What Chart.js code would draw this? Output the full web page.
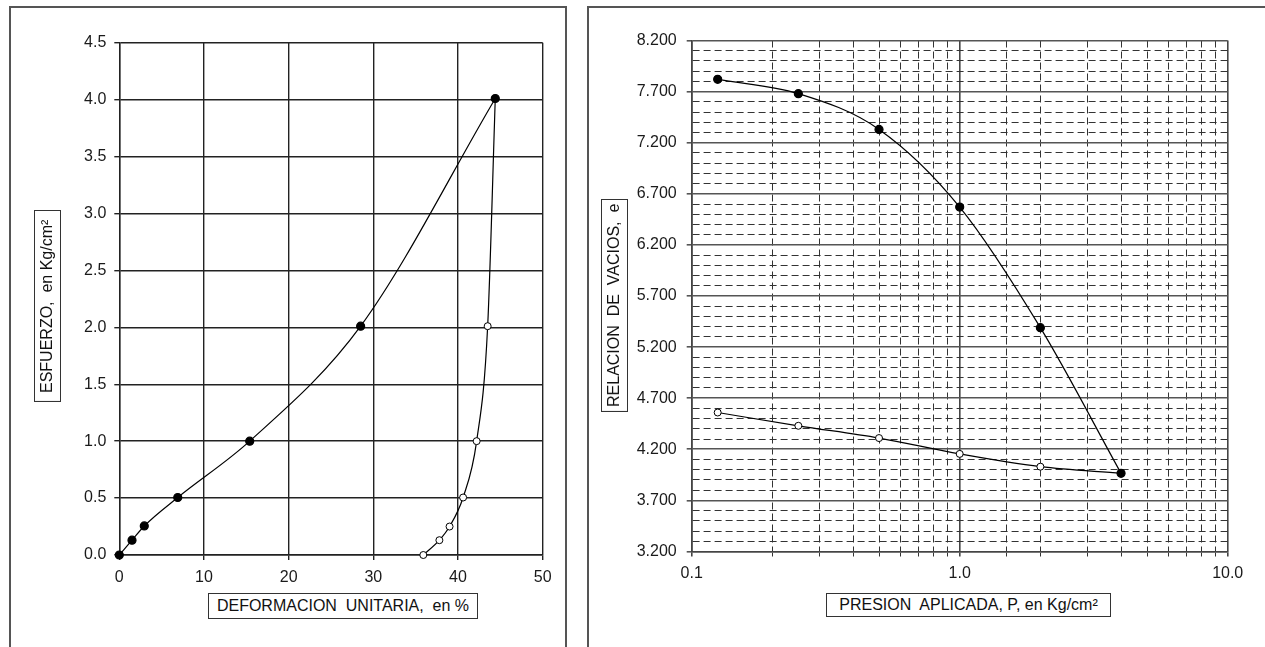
<!DOCTYPE html>
<html>
<head>
<meta charset="utf-8">
<script src="https://cdn.jsdelivr.net/npm/chart.js@4.4.1/dist/chart.umd.min.js"></script>
<style>
  body { margin: 0; background: #fff; width: 1265px; height: 647px; overflow: hidden; position: relative; font-family: "Liberation Sans", Arial, sans-serif; }
  .frame { position: absolute; border: 2px solid #555; box-sizing: border-box; }
  canvas { position: absolute; }
  .title { position: absolute; box-sizing: border-box; border: 1.5px solid #333; background: #fff; color: #111; font-size: 16px; display: flex; align-items: center; justify-content: center; white-space: pre; }
  .vert { writing-mode: vertical-rl; transform: rotate(180deg); }
</style>
</head>
<body>
<div class="frame" style="left:9px; top:6px; width:558px; height:680px;"></div>
<div class="frame" style="left:587px; top:6px; width:700px; height:680px;"></div>

<canvas id="stress-chart" width="556" height="640" style="left:10px; top:7px;"></canvas>
<canvas id="void-chart" width="676" height="640" style="left:589px; top:7px;"></canvas>

<div class="title vert" style="left:34px; top:210px; width:27px; height:192px;">ESFUERZO,  en Kg/cm²</div>
<div class="title" style="left:208px; top:593px; width:270px; height:26px;">DEFORMACION  UNITARIA,  en %</div>
<div class="title vert" style="left:601px; top:199px; width:27px; height:213px;">RELACION  DE  VACIOS,  e</div>
<div class="title" style="left:826px; top:593px; width:285px; height:24px;">PRESION  APLICADA, P, en Kg/cm²</div>

<script>
// left chart: esfuerzo vs deformacion
const strainLoad = [0, 1.5, 2.95, 6.9, 15.4, 28.5, 44.4];
const stressLoad = [0, 0.13, 0.255, 0.505, 1.0, 2.01, 4.01];
const strainUnload = [35.9, 37.8, 39.0, 40.6, 42.2, 43.5, 44.4];
const stressUnload = [0, 0.13, 0.25, 0.505, 1.0, 2.01, 4.01];

// right chart: relacion de vacios vs presion
const pressure = [0.125, 0.25, 0.5, 1, 2, 4];
const voidLoad = [7.82, 7.68, 7.33, 6.57, 5.39, 3.965];
const voidUnload = [4.56, 4.43, 4.31, 4.155, 4.03, 3.965];

const tickFont = { family: '"Liberation Sans", Arial, sans-serif', size: 16 };
const tickColor = '#1a1a1a';

function toPoints(xs, ys) {
    return xs.map((x, i) => ({ x: x, y: ys[i] }));
}

const loadPoints = toPoints(strainLoad, stressLoad);
const unloadPoints = toPoints(strainUnload, stressUnload);

new Chart(document.getElementById('stress-chart'), {
    type: 'line',
    data: {
        datasets: [{
            data: loadPoints,
            clip: false,
            borderColor: '#000',
            borderWidth: 1.2,
            cubicInterpolationMode: 'monotone',
            pointRadius: 4,
            pointBackgroundColor: '#000',
            pointBorderColor: '#000'
        }, {
            data: unloadPoints,
            clip: false,
            borderColor: '#000',
            borderWidth: 1.2,
            cubicInterpolationMode: 'monotone',
            pointRadius: ctx => ctx.dataIndex === unloadPoints.length - 1 ? 0 : 3.5,
            pointBackgroundColor: '#fff',
            pointBorderColor: '#000',
            pointBorderWidth: 1
        }]
    },
    options: {
        responsive: false,
        animation: false,
        events: [],
        layout: { padding: { top: 35.7, right: 23.3, left: 0, bottom: 0 } },
        plugins: { legend: { display: false }, tooltip: { enabled: false } },
        scales: {
            x: {
                type: 'linear',
                min: 0,
                max: 50,
                ticks: { stepSize: 10, font: tickFont, color: tickColor, padding: 8 },
                grid: { color: '#222', lineWidth: 1.4, tickLength: 5 },
                border: { color: '#222', width: 1.4 },
                afterFit: scale => { scale.height = 92; }
            },
            y: {
                min: 0,
                max: 4.5,
                ticks: { stepSize: 0.5, font: tickFont, color: tickColor, padding: 8, callback: v => Number(v).toFixed(1) },
                grid: { color: '#222', lineWidth: 1.4, tickLength: 5 },
                border: { color: '#222', width: 1.4 },
                afterFit: scale => { scale.width = 109.3; }
            }
        }
    }
});

function isDecade(v) {
    const l = Math.log10(v);
    return Math.abs(l - Math.round(l)) < 1e-6;
}

function isMajorVoid(v) {
    return (Math.round(v * 10) - 32) % 5 === 0;
}

const voidLoadPoints = toPoints(pressure, voidLoad);
const voidUnloadPoints = toPoints(pressure, voidUnload);

new Chart(document.getElementById('void-chart'), {
    type: 'line',
    data: {
        datasets: [{
            data: voidLoadPoints,
            clip: false,
            borderColor: '#000',
            borderWidth: 1.2,
            cubicInterpolationMode: 'monotone',
            pointRadius: 4,
            pointBackgroundColor: '#000',
            pointBorderColor: '#000'
        }, {
            data: voidUnloadPoints,
            clip: false,
            borderColor: '#000',
            borderWidth: 1.2,
            cubicInterpolationMode: 'monotone',
            pointRadius: ctx => ctx.dataIndex === voidUnloadPoints.length - 1 ? 0 : 3.5,
            pointBackgroundColor: '#fff',
            pointBorderColor: '#000',
            pointBorderWidth: 1
        }]
    },
    options: {
        responsive: false,
        animation: false,
        events: [],
        layout: { padding: { top: 33.5, right: 37.3, left: 0, bottom: 0 } },
        plugins: { legend: { display: false }, tooltip: { enabled: false } },
        scales: {
            x: {
                type: 'logarithmic',
                min: 0.1,
                max: 10,
                ticks: {
                    autoSkip: false,
                    maxRotation: 0,
                    font: tickFont,
                    color: tickColor,
                    padding: 7,
                    callback: v => isDecade(v) ? Number(v).toFixed(1) : ''
                },
                grid: {
                    color: ctx => ctx.tick && isDecade(ctx.tick.value) ? '#444' : '#333',
                    lineWidth: ctx => ctx.tick && isDecade(ctx.tick.value) ? 1.6 : 1,
                    tickLength: 5
                },
                border: {
                    color: '#444',
                    width: 1.6,
                    dash: ctx => ctx.tick && !isDecade(ctx.tick.value) ? [7, 4] : []
                },
                afterFit: scale => { scale.height = 95.5; }
            },
            y: {
                min: 3.2,
                max: 8.2,
                ticks: {
                    stepSize: 0.1,
                    autoSkip: false,
                    font: tickFont,
                    color: tickColor,
                    padding: 10,
                    callback: v => isMajorVoid(v) ? Number(v).toFixed(3) : ''
                },
                grid: {
                    color: ctx => ctx.tick && isMajorVoid(ctx.tick.value) ? '#555' : '#333',
                    lineWidth: ctx => ctx.tick && isMajorVoid(ctx.tick.value) ? 1.6 : 1,
                    tickColor: ctx => ctx.tick && isMajorVoid(ctx.tick.value) ? '#555' : 'rgba(0,0,0,0)',
                    tickLength: 5
                },
                border: {
                    color: '#444',
                    width: 1.6,
                    dash: ctx => ctx.tick && !isMajorVoid(ctx.tick.value) ? [7, 4] : []
                },
                afterFit: scale => { scale.width = 102.7; }
            }
        }
    }
});
</script>
</body>
</html>
